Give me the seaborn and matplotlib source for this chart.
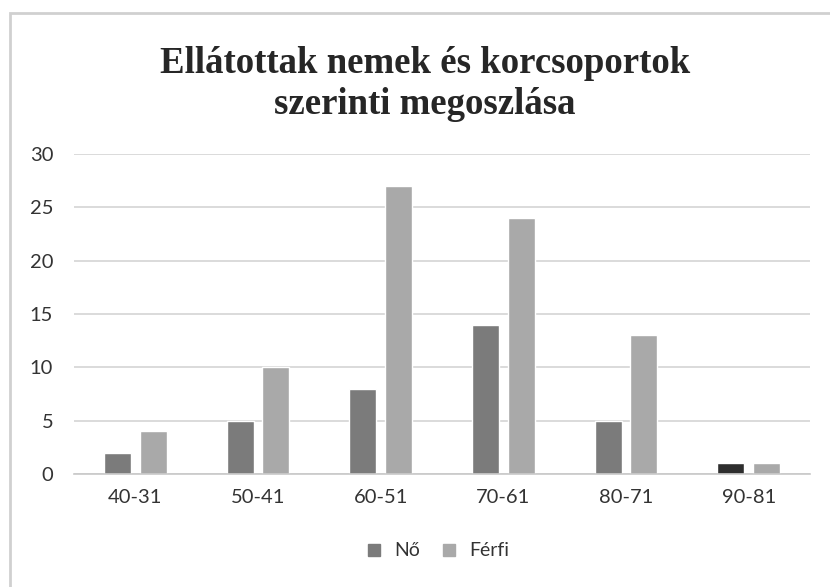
import matplotlib
matplotlib.use("Agg")
import matplotlib.pyplot as plt
import pandas as pd
import seaborn as sns
from matplotlib.lines import Line2D

# adatok
korcsoportok = ["40-31", "50-41", "60-51", "70-61", "80-71", "90-81"]
no_ertekek = [2, 5, 8, 14, 5, 1]
ferfi_ertekek = [4, 10, 27, 24, 13, 1]
nemek = ["Nő", "Férfi"]
szinek = ["#7b7b7b", "#a9a9a9"]

df = pd.DataFrame({
    "korcsoport": korcsoportok * 2,
    "fo": no_ertekek + ferfi_ertekek,
    "nem": [nemek[0]] * len(korcsoportok) + [nemek[1]] * len(korcsoportok),
})

sns.set_theme(style="white")
plt.rcParams["font.family"] = ["Lato", "DejaVu Sans"]

fig = plt.figure(figsize=(8.30, 5.87), dpi=100)
ax = fig.add_axes([74 / 830, 1 - 474 / 587, 736 / 830, 320 / 587])

sns.barplot(data=df, x="korcsoport", y="fo", hue="nem", order=korcsoportok,
            hue_order=nemek, palette=szinek, width=0.58, gap=0.24,
            saturation=1, legend=False, ax=ax)

# a szkennelt képen az utolsó "Nő" oszlop sötétebb
ax.patches[len(korcsoportok) - 1].set_facecolor("#2e2e2e")

ax.set_ylim(0, 30)
ax.set_xlim(-0.5, len(korcsoportok) - 0.5)
ax.set_yticks(range(0, 31, 5))
ax.yaxis.grid(True, color="#d4d4d4", linewidth=1.2)
ax.set_axisbelow(True)
ax.set(xlabel="", ylabel="")
for s in ["top", "right", "left"]:
    ax.spines[s].set_visible(False)
ax.spines["bottom"].set_color("#c8c8c8")
ax.spines["bottom"].set_linewidth(1.2)
ax.tick_params(axis="both", length=0, labelsize=14.5, colors="#333333")
ax.tick_params(axis="y", pad=15)
ax.tick_params(axis="x", pad=11)

fig.text(425 / 830, 1 - 84 / 587, "Ellátottak nemek és korcsoportok\nszerinti megoszlása",
         ha="center", va="center", fontsize=26.5, fontweight="bold",
         family="Liberation Serif", color="#262626", linespacing=1.2)

kezek = [Line2D([], [], marker="s", linestyle="", markersize=9,
                markerfacecolor=c, markeredgecolor=c) for c in szinek]
fig.legend(kezek, nemek, loc="center", bbox_to_anchor=(432 / 830, 1 - 551 / 587),
           ncol=2, frameon=False, fontsize=14, handletextpad=0.05,
           columnspacing=0.5, labelcolor="#333333")

# keret
fig.add_artist(plt.Rectangle((10 / 830, -0.05), 1.0, 1 - 13 / 587 + 0.05,
                             transform=fig.transFigure, fill=False,
                             edgecolor="#d0d0d0", linewidth=2))

fig.savefig("out.png", dpi=100)
